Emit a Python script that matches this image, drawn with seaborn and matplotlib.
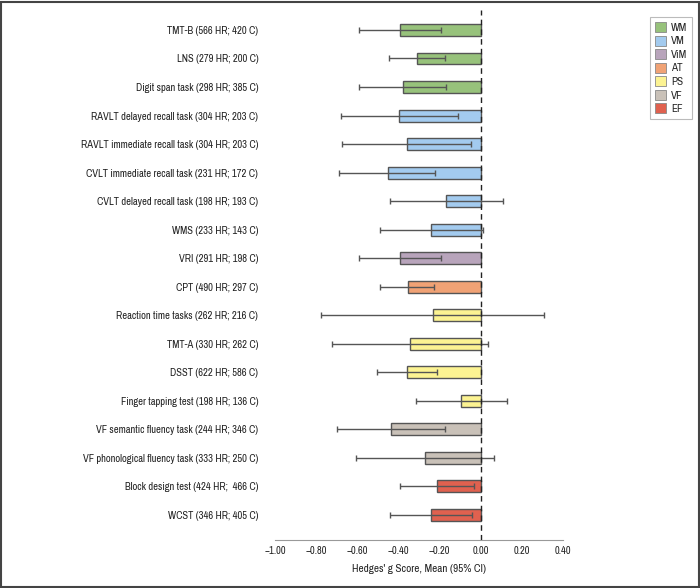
import matplotlib
matplotlib.use("Agg")
import matplotlib.pyplot as plt
from matplotlib.patches import Patch, Rectangle
import seaborn as sns
import pandas as pd
import numpy as np

labels = [
    "TMT-B (566 HR; 420 C)",
    "LNS (279 HR; 200 C)",
    "Digit span task (298 HR; 385 C)",
    "RAVLT delayed recall task (304 HR; 203 C)",
    "RAVLT immediate recall task (304 HR; 203 C)",
    "CVLT immediate recall task (231 HR; 172 C)",
    "CVLT delayed recall task (198 HR; 193 C)",
    "WMS (233 HR; 143 C)",
    "VRI (291 HR; 198 C)",
    "CPT (490 HR; 297 C)",
    "Reaction time tasks (262 HR; 216 C)",
    "TMT-A (330 HR; 262 C)",
    "DSST (622 HR; 586 C)",
    "Finger tapping test (198 HR; 136 C)",
    "VF semantic fluency task (244 HR; 346 C)",
    "VF phonological fluency task (333 HR; 250 C)",
    "Block design test (424 HR;  466 C)",
    "WCST (346 HR; 405 C)",
]
domains = ["WM", "WM", "WM", "VM", "VM", "VM", "VM", "VM", "ViM", "AT",
           "PS", "PS", "PS", "PS", "VF", "VF", "EF", "EF"]
means = [-0.39, -0.31, -0.377, -0.397, -0.358, -0.453, -0.167, -0.241, -0.392, -0.353,
         -0.233, -0.343, -0.358, -0.096, -0.437, -0.272, -0.211, -0.241]
ci_low = [-0.594, -0.447, -0.594, -0.68, -0.672, -0.691, -0.442, -0.489, -0.594, -0.489,
          -0.775, -0.723, -0.503, -0.316, -0.698, -0.607, -0.393, -0.442]
ci_high = [-0.193, -0.175, -0.168, -0.112, -0.046, -0.223, 0.11, 0.013, -0.193, -0.228,
           0.306, 0.034, -0.214, 0.126, -0.175, 0.066, -0.031, -0.042]
legend_order = ["WM", "VM", "ViM", "AT", "PS", "VF", "EF"]
palette_colors = ["#97c27b", "#a3cbef", "#b8a4bb", "#f0a275", "#fcf392", "#c9c1b8", "#e0614f"]
xticks = [-1.0, -0.8, -0.6, -0.4, -0.2, 0.0, 0.2, 0.4]

sns.set_theme(style="white")
plt.rcParams["font.family"] = ["Archivo Narrow", "DejaVu Sans"]

df = pd.DataFrame({"label": labels, "domain": domains, "mean": means})
palette = dict(zip(legend_order, palette_colors))

fig = plt.figure(figsize=(7.0, 5.88), dpi=100)
ax = fig.add_axes([275 / 700, 1 - 540 / 588, 288 / 700, 530 / 588])

sns.barplot(data=df, y="label", x="mean", hue="domain", palette=palette,
            hue_order=legend_order, dodge=False, orient="h", width=0.42,
            saturation=1, edgecolor="#555555", linewidth=1.0, legend=False, ax=ax)

ypos = np.arange(len(labels))
m = np.array(means)
xerr = np.vstack([m - np.array(ci_low), np.array(ci_high) - m])
ax.errorbar(m, ypos, xerr=xerr, fmt="none", ecolor="#555555", elinewidth=1.0,
            capsize=2.5, capthick=1.0, zorder=5)

ax.axvline(0, color="#222222", linestyle=(0, (4, 3)), linewidth=1.0, zorder=6)

ax.set_xlim(-1.0, 0.4)
ax.set_ylim(len(labels) - 1 + 0.88, -0.70)
ax.set_xticks(xticks)
ax.set_xticklabels([f"{t:.2f}".replace("-", "\u2212") for t in xticks], fontsize=7.5)
ax.tick_params(axis="x", direction="in", length=3, width=0.8, colors="#888888",
               labelcolor="#222222", pad=4)
ax.tick_params(axis="y", length=0, pad=12, labelsize=7.6, labelcolor="#222222")
ax.set_ylabel("")
ax.set_xlabel("Hedges' g Score, Mean (95% CI)", fontsize=8, color="#222222", labelpad=6)
for s in ["top", "right", "left"]:
    ax.spines[s].set_visible(False)
ax.spines["bottom"].set_color("#999999")
ax.spines["bottom"].set_linewidth(0.8)

handles = [Patch(facecolor=palette[d], edgecolor="#888888", linewidth=0.6, label=d)
           for d in legend_order]
leg = fig.legend(handles=handles, loc="upper right", bbox_to_anchor=(692 / 700, 1 - 17 / 588),
                 borderaxespad=0, fontsize=8, frameon=True, fancybox=False, edgecolor="#aaaaaa",
                 handlelength=1.0, handleheight=1.0, handletextpad=0.4,
                 labelspacing=0.25, borderpad=0.45)
leg.get_frame().set_linewidth(0.8)

fig.patches.append(Rectangle((0.001, 0.002), 0.997, 0.995, transform=fig.transFigure,
                             fill=False, edgecolor="#444444", linewidth=1.5))

fig.savefig("out.png", dpi=100)
